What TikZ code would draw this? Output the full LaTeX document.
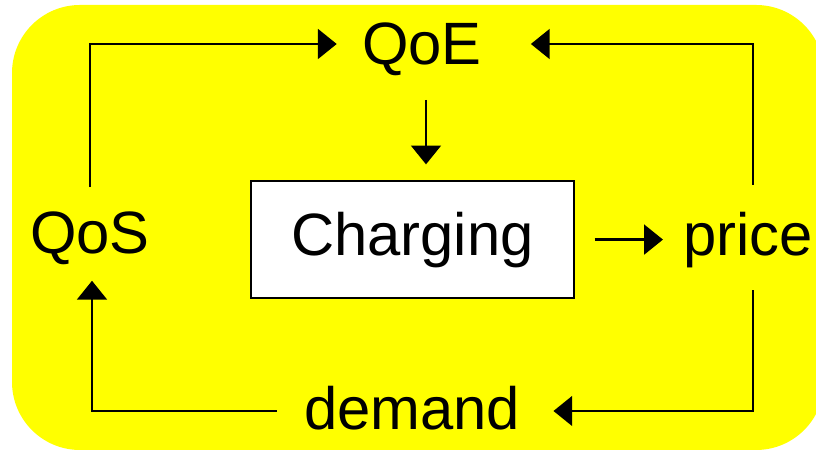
\documentclass[tikz,border=0pt]{standalone}
\usepackage{fontspec}
\setmainfont{Liberation Sans}
\usetikzlibrary{arrows.meta}
\definecolor{panelyellow}{RGB}{255,255,0}
\begin{document}
\begin{tikzpicture}[scale=1.0,
    loopline/.style={line width=2.1pt,-{Triangle[length=0.47cm,width=0.74cm]}},
    lbl/.style={font=\fontsize{42.5}{48}\selectfont,inner sep=0pt}]
    \useasboundingbox (0,0) rectangle (20.4,11.3);
    % --- yellow panel ---
    \fill[panelyellow,rounded corners=1.7cm] (0.3,0.05) rectangle (20.6,11.175);
    % --- labels and the charging box ---
    \node[lbl] (qoe) at (10.55,10.075) {QoE};
    \node[lbl] (qos) at (2.25,5.35) {QoS};
    \node[lbl] (price) at (18.7,5.3) {price};
    \node[lbl] (demand) at (10.3,1.1) {demand};
    \node[lbl,draw,line width=1pt,fill=white,minimum width=8.075cm,minimum height=2.925cm]
      (chg) at (10.31,5.31) {Charging};
    % --- the loop ---
    \draw[loopline,shorten >=0.63cm] ([yshift=0.6cm]qos.north) |- ([yshift=0.125cm]qoe.west);
    \draw[loopline,shorten >=1.22cm] ([xshift=0.125cm,yshift=0.68cm]price.north) |- ([yshift=0.125cm]qoe.east);
    \draw[loopline,shorten <=0.6cm,shorten >=0.4cm] ([xshift=0.1cm]qoe.south) -- ([xshift=0.1cm]qoe.south |- chg.north);
    \draw[loopline,shorten <=0.5cm,shorten >=0.5cm] (chg.east) -- (chg.east -| price.west);
    \draw[loopline,shorten >=0.83cm] ([xshift=0.125cm,yshift=-0.55cm]price.south) |- ([yshift=-0.075cm]demand.east);
    \draw[loopline,shorten <=0.68cm,shorten >=0.4cm] ([yshift=-0.075cm]demand.west) -| ([xshift=0.05cm]qos.south);
  \end{tikzpicture}
\end{document}
